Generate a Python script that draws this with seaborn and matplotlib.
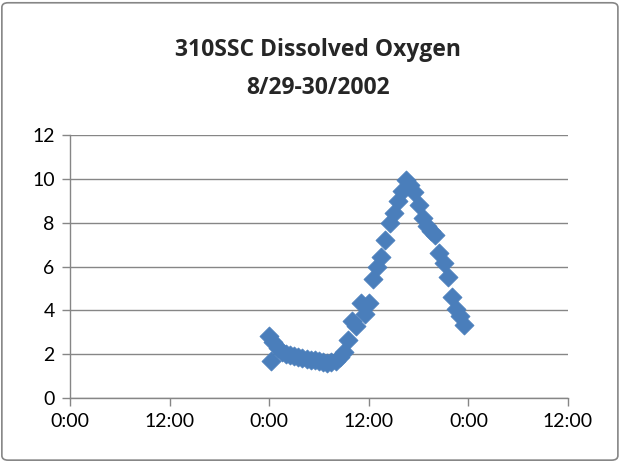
import matplotlib
matplotlib.use("Agg")
import matplotlib.pyplot as plt
import seaborn as sns
import pandas as pd
from matplotlib.patches import FancyBboxPatch

# hours since 8/29 0:00, dissolved oxygen (mg/L)
hours = [24.0, 24.25, 24.5, 25.0, 25.5, 26.0, 26.5, 27.0, 27.5, 28.0,
         28.5, 29.0, 29.5, 30.0, 30.5, 31.0, 31.5, 32.0, 32.5, 33.0,
         33.5, 34.0, 34.5, 35.0, 35.5, 36.0, 36.5, 37.0, 37.5, 38.0,
         38.5, 39.0, 39.5, 40.0, 40.5, 41.0, 41.5, 42.0, 42.5, 43.0,
         43.5, 44.0, 44.5, 45.0, 45.5, 46.0, 46.5, 47.0, 47.5]
do_values = [2.85, 1.70, 2.55, 2.30, 2.10, 2.02, 1.96, 1.92, 1.88, 1.82,
             1.78, 1.74, 1.72, 1.68, 1.65, 1.62, 1.64, 1.70, 1.85, 2.10,
             2.65, 3.50, 3.30, 4.35, 3.85, 4.35, 5.45, 6.00, 6.45, 7.20,
             8.00, 8.45, 9.00, 9.45, 9.95, 9.70, 9.40, 8.80, 8.20, 7.85,
             7.60, 7.45, 6.60, 6.15, 5.50, 4.60, 4.05, 3.75, 3.35]

tick_hours = [0, 12, 24, 36, 48, 60]
tick_labels = ["0:00", "12:00", "0:00", "12:00", "0:00", "12:00"]

df = pd.DataFrame({"hour": hours, "do": do_values})

sns.set_theme(style="white")
plt.rcParams["font.family"] = ["Lato", "DejaVu Sans"]

fig = plt.figure(figsize=(6.21, 4.62), dpi=100)
ax = fig.add_axes([0.1127, 0.1385, 0.802, 0.5693])

sns.scatterplot(data=df, x="hour", y="do", marker="D", s=95, color="#4A7EBB",
                edgecolor="#4A7EBB", linewidth=0.5, ax=ax, zorder=3)

ax.set_xlim(0, 60)
ax.set_ylim(0, 12)
ax.set_xticks(tick_hours)
ax.set_xticklabels(tick_labels)
ax.set_yticks(range(0, 13, 2))
ax.set_xlabel("")
ax.set_ylabel("")
ax.yaxis.grid(True, color="#868686", linewidth=1)
ax.set_axisbelow(True)
for side in ["top", "right"]:
    ax.spines[side].set_visible(False)
for side in ["left", "bottom"]:
    ax.spines[side].set_color("#868686")
    ax.spines[side].set_linewidth(1)
ax.tick_params(axis="both", which="major", length=6, width=1, color="#868686",
               direction="out", labelsize=14, labelcolor="black", pad=5,
               left=True, bottom=True)

fig.text(0.512, 0.851, "310SSC Dissolved Oxygen\n8/29-30/2002", ha="center",
         va="center", fontsize=16.5, fontweight="bold", linespacing=1.75,
         family=["Open Sans", "DejaVu Sans"])

border = FancyBboxPatch((0.003, 0.004), 0.992, 0.99, boxstyle="round,pad=0,rounding_size=0.01",
                        transform=fig.transFigure, fill=False, edgecolor="#868686",
                        linewidth=1.2)
fig.patches.append(border)

fig.savefig("out.png", dpi=100)
